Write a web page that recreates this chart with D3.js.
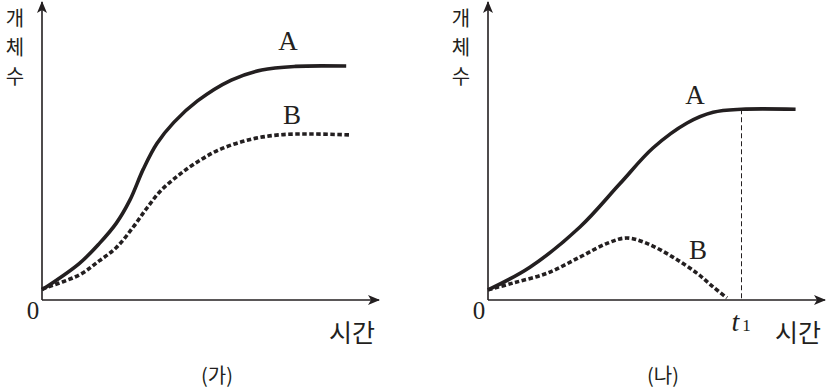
<!DOCTYPE html>
<html>
<head>
<meta charset="utf-8">
<script src="https://cdn.jsdelivr.net/npm/d3@7"></script>
<style>
  body { margin: 0; background: #fff; }
  svg { display: block; }
  .ko { font-family: "Noto Sans CJK KR", sans-serif; fill: #231f20; }
  .serif { font-family: "Liberation Serif", "DejaVu Serif", serif; fill: #231f20; }
</style>
</head>
<body>
<svg id="chart" width="826" height="389"></svg>
<script>
"use strict";

// (가) - both populations grow, B levels off lower
const timeGaA = [0, 11, 17, 22, 26, 30, 34, 39, 46, 56, 65, 75, 90];
const valGaA = [3.4, 12.2, 19, 25.8, 33.5, 44, 52.5, 59.6, 66.8, 73.8, 77.2, 78.4, 78.5];
const timeGaB = [0, 11, 17, 22, 27, 31, 35, 40, 45, 52, 61, 70, 80, 91];
const valGaB = [3.7, 8.4, 13.2, 17.6, 24.5, 30.8, 36.5, 41.5, 45.6, 50.2, 53.7, 55.4, 55.7, 55.4];

// (나) - A plateaus at t1, B peaks then dies out
const timeNaA = [0, 12.4, 27.2, 39, 48.8, 58.9, 66.6, 75, 91];
const valNaA = [3.4, 11, 24.5, 39, 51, 59.4, 63, 64, 64];
const timeNaB = [0, 7.4, 17.5, 27.2, 35.2, 41, 47, 54.7, 61.8, 66.6, 70.7];
const valNaB = [3.4, 5.7, 9, 14.4, 19, 20.8, 19, 14.4, 9, 4.4, 0.7];
const t1 = 75;

const panels = [
  { ox: 42, title: "(가)", a: [timeGaA, valGaA], b: [timeGaB, valGaB], labelA: [288, 50], labelB: [292, 124] },
  { ox: 488, title: "(나)", a: [timeNaA, valNaA], b: [timeNaB, valNaB], labelA: [695, 104], labelB: [698, 259], t1: t1 },
];

const svg = d3.select("#chart");
const ink = "#231f20";

const defs = svg.append("defs");
defs.append("marker")
  .attr("id", "arrow")
  .attr("viewBox", "0 0 12 10")
  .attr("refX", 11).attr("refY", 5)
  .attr("markerWidth", 12).attr("markerHeight", 10)
  .attr("markerUnits", "userSpaceOnUse")
  .attr("orient", "auto")
  .append("path")
  .attr("d", "M0,0 L12,5 L0,10 L3,5 Z")
  .attr("fill", ink);

const zip = (xs, ys) => xs.map((x, i) => [x, ys[i]]);

panels.forEach((p) => {
  const x = d3.scaleLinear().domain([0, 100]).range([p.ox, p.ox + 338]);
  const y = d3.scaleLinear().domain([0, 100]).range([300, 2]);
  const g = svg.append("g");

  // axes with arrowheads
  g.append("line")
    .attr("x1", x(0)).attr("y1", y(0))
    .attr("x2", x(0)).attr("y2", 2)
    .attr("stroke", ink).attr("stroke-width", 1.6)
    .attr("marker-end", "url(#arrow)");
  g.append("line")
    .attr("x1", x(0)).attr("y1", y(0))
    .attr("x2", p.ox + 337).attr("y2", y(0))
    .attr("stroke", ink).attr("stroke-width", 1.6)
    .attr("marker-end", "url(#arrow)");

  const line = d3.line()
    .x((d) => x(d[0]))
    .y((d) => y(d[1]))
    .curve(d3.curveCatmullRom.alpha(0.5));

  if (p.t1 !== undefined) {
    g.append("line")
      .attr("x1", x(p.t1)).attr("y1", y(p.a[1][p.a[0].indexOf(p.t1)]))
      .attr("x2", x(p.t1)).attr("y2", y(0))
      .attr("stroke", ink).attr("stroke-width", 1)
      .attr("stroke-dasharray", "5,3");
    const tl = g.append("text").attr("class", "serif")
      .attr("x", x(p.t1) - 10).attr("y", 331)
      .attr("font-size", 28).attr("font-style", "italic")
      .text("t");
    tl.append("tspan").attr("font-style", "normal").attr("font-size", 17).attr("dx", 3).text("1");
  }

  g.append("path")
    .datum(zip(p.a[0], p.a[1]))
    .attr("fill", "none").attr("stroke", ink)
    .attr("stroke-width", 3.6)
    .attr("d", line);

  g.append("path")
    .datum(zip(p.b[0], p.b[1]))
    .attr("fill", "none").attr("stroke", ink)
    .attr("stroke-width", 3.6)
    .attr("stroke-dasharray", "4.5,2.5")
    .attr("d", line);

  g.append("text").attr("class", "serif")
    .attr("x", p.labelA[0]).attr("y", p.labelA[1])
    .attr("text-anchor", "middle").attr("font-size", 27)
    .text("A");
  g.append("text").attr("class", "serif")
    .attr("x", p.labelB[0]).attr("y", p.labelB[1])
    .attr("text-anchor", "middle").attr("font-size", 27)
    .text("B");

  g.append("text").attr("class", "serif")
    .attr("x", x(0) - 9).attr("y", 319)
    .attr("text-anchor", "middle").attr("font-size", 25)
    .text("0");

  // y label, stacked vertically
  ["개", "체", "수"].forEach((ch, i) => {
    g.append("text").attr("class", "ko")
      .attr("x", x(0) - 27).attr("y", 17 + i * 29)
      .attr("dominant-baseline", "central")
      .attr("text-anchor", "middle").attr("font-size", 20)
      .text(ch);
  });

  g.append("text").attr("class", "ko")
    .attr("x", p.ox + 310).attr("y", 331)
    .attr("dominant-baseline", "central")
    .attr("text-anchor", "middle").attr("font-size", 25)
    .text("시간");

  g.append("text").attr("class", "ko")
    .attr("x", p.ox + 175).attr("y", 374)
    .attr("dominant-baseline", "central")
    .attr("text-anchor", "middle").attr("font-size", 20)
    .text(p.title);
});
</script>
</body>
</html>
